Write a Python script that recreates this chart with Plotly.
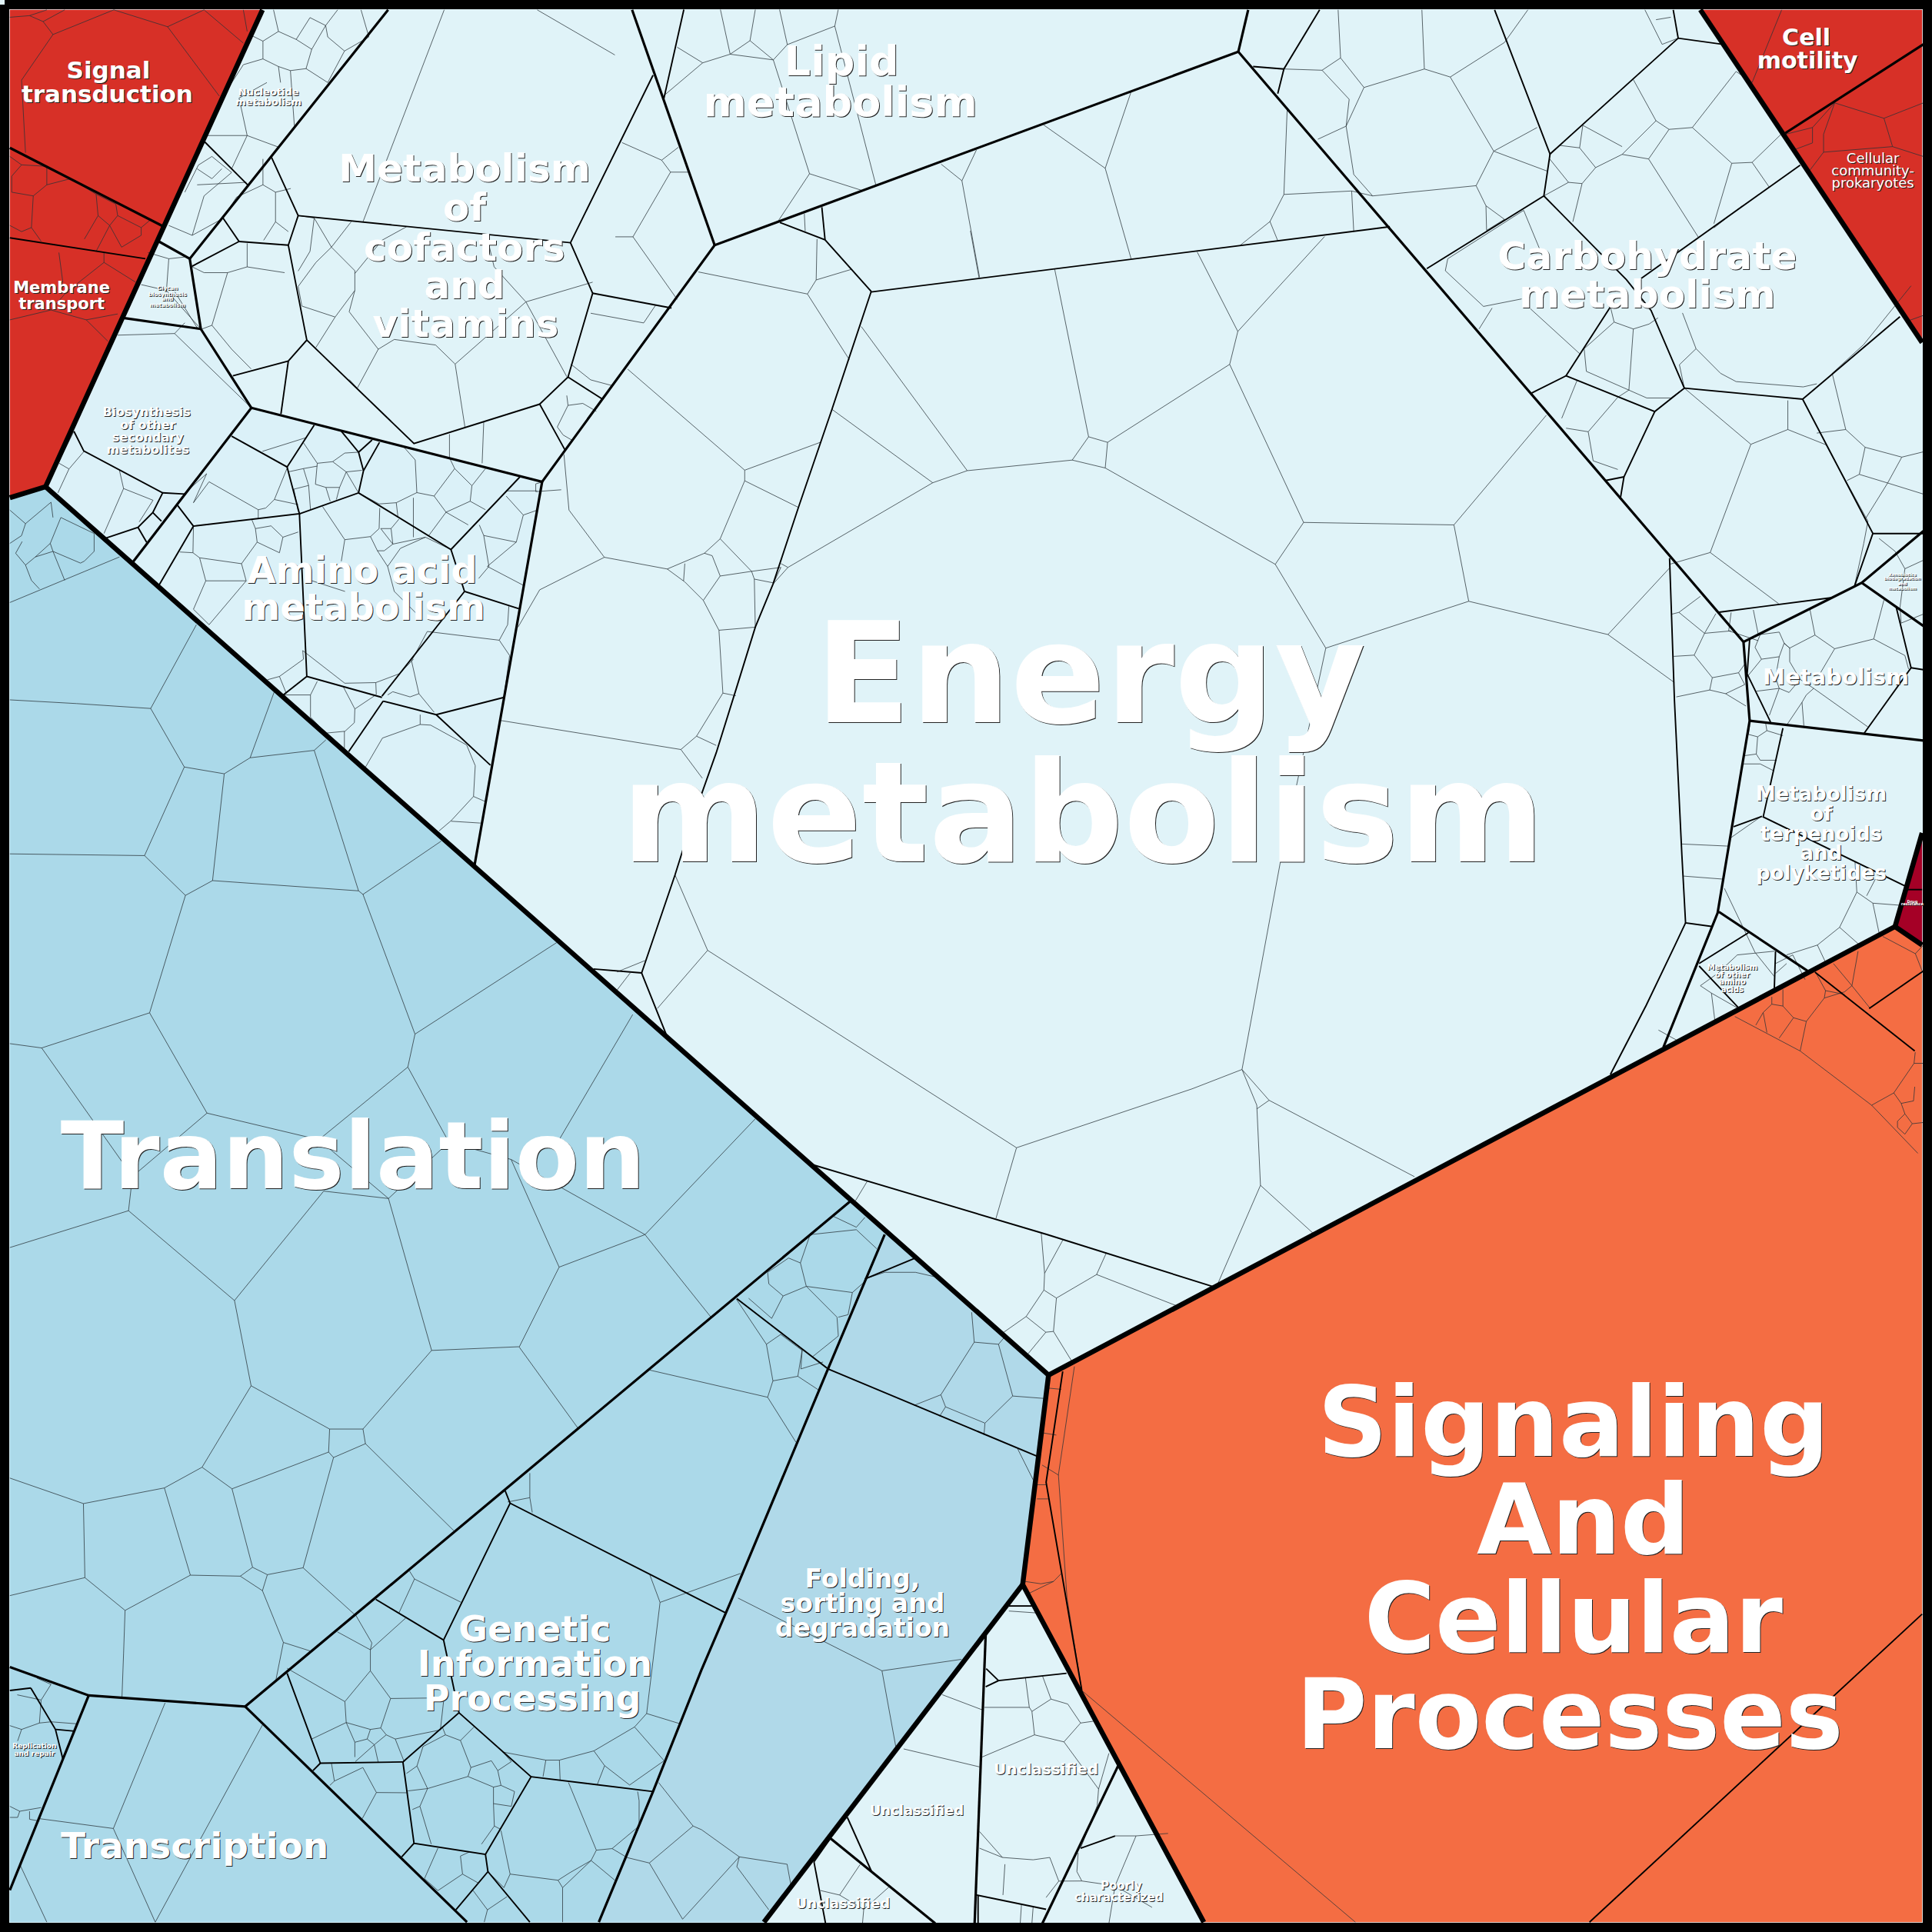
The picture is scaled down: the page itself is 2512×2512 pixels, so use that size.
import plotly.graph_objects as go

# ---- regions: outer outlines of the top-level groups (chart units, 0..1568) ----
REGION_NAMES = ["Metabolism", "Amino", "Biosynthesis", "Info", "Folding", "Unclassified",
                "Environmental", "Cellular", "Drug", "Signaling"]
REGION_COLORS = ["#e0f3f8", "#dbf1f8", "#dcf1f8", "#abd9e9", "#b0d9e9", "#e0f3f8",
                 "#d73027", "#d73027", "#a50026", "#f46d43"]
REGION_SHAPES = [
    [(213, 8), (1380, 8), (1560, 278), (1560, 676), (1538, 752), (851, 1116), (37, 395)],
    [(204, 331), (440, 391), (385, 703), (108, 456)],
    [(100, 258), (163, 267), (204, 331), (108, 456), (37, 395)],
    [(8, 404), (37, 395), (851, 1116), (830, 1286), (620, 1560), (8, 1560)],
    [(718, 1002), (851, 1116), (830, 1286), (620, 1560), (486, 1560), (530, 1454), (569, 1356), (672, 1111)],
    [(830, 1286), (977, 1560), (620, 1560)],
    [(8, 8), (213, 8), (37, 395), (8, 404)],
    [(1380, 8), (1560, 8), (1560, 278)],
    [(1560, 676), (1538, 752), (1560, 767)],
    [(851, 1116), (1538, 752), (1560, 767), (1560, 1560), (977, 1560), (830, 1286)],
]

HEAVY = [
    [(213, 8), (37, 395), (8, 404)],
    [(37, 395), (851, 1116), (1538, 752), (1560, 767)],
    [(1538, 752), (1560, 676)],
    [(1380, 8), (1560, 278)],
    [(851, 1116), (830, 1286), (977, 1560)],
    [(830, 1286), (620, 1560)],
]

BOLD = [
    [(108, 456), (204, 331), (440, 391), (385, 703)],
    [(315, 8), (154, 210), (129, 196)],
    [(154, 210), (163, 267), (204, 331)],
    [(100, 258), (163, 267)],
    [(440, 391), (580, 199), (1005, 42)],
    [(513, 8), (580, 199)],
    [(1005, 42), (1013, 8)],
    [(1005, 42), (1415, 521), (1420, 585), (1394, 741), (1350, 850)],
    [(1415, 521), (1511, 473), (1561, 431)],
    [(1511, 473), (1561, 508)],
    [(1420, 585), (1561, 601)],
    [(1395, 740), (1467, 788)],
    [(690, 975), (199, 1385), (72, 1376), (8, 1353)],
    [(72, 1376), (8, 1534)],
    [(199, 1385), (379, 1560)],
    [(718, 1002), (672, 1111), (593, 1300), (569, 1356), (530, 1454), (486, 1560)],
    [(800, 1326), (791, 1561)],
    [(674, 1492), (759, 1561)],
    [(908, 1432), (846, 1561)],
    [(8, 120), (133, 184)],
    [(1449, 108), (1561, 36)],
]

MID = [
    [(242, 175), (463, 197), (530, 61)],
    [(220, 127), (242, 175), (234, 199), (249, 276), (234, 293), (189, 305)],
    [(194, 196), (234, 199)],
    [(181, 177), (194, 196), (156, 216)],
    [(234, 293), (228, 336)],
    [(249, 276), (336, 360), (438, 328)],
    [(463, 197), (481, 238), (461, 306), (438, 328), (459, 366)],
    [(481, 238), (545, 250)],
    [(461, 306), (489, 324)],
    [(166, 115), (201, 150)],
    [(188, 354), (233, 379), (255, 345)],
    [(233, 379), (243, 417), (157, 427)],
    [(243, 417), (291, 400), (295, 382), (308, 359)],
    [(277, 350), (291, 367), (295, 382)],
    [(291, 367), (302, 357)],
    [(291, 400), (366, 446), (422, 387)],
    [(366, 446), (377, 480), (421, 494)],
    [(377, 480), (310, 565)],
    [(243, 417), (249, 549), (310, 566)],
    [(249, 549), (230, 564)],
    [(311, 569), (283, 610)],
    [(311, 569), (354, 580), (409, 566)],
    [(354, 580), (398, 621)],
    [(144, 410), (157, 427), (129, 475)],
    [(60, 350), (68, 366), (132, 400), (150, 401)],
    [(132, 400), (124, 416), (112, 428), (85, 437)],
    [(124, 416), (131, 423)],
    [(112, 428), (119, 440)],
    [(1213, 8), (1258, 125), (1362, 31), (1398, 36)],
    [(1362, 31), (1358, 8)],
    [(1258, 125), (1253, 159), (1158, 218)],
    [(1253, 159), (1320, 227), (1340, 252), (1367, 315)],
    [(1461, 134), (1332, 226)],
    [(1307, 249), (1271, 305), (1243, 319)],
    [(1271, 305), (1343, 334), (1367, 315)],
    [(1343, 334), (1318, 387), (1315, 405)],
    [(1303, 390), (1318, 387)],
    [(1367, 315), (1463, 324), (1542, 257)],
    [(1463, 324), (1520, 433), (1505, 476)],
    [(1520, 433), (1561, 433)],
    [(1394, 497), (1487, 485)],
    [(1355, 453), (1359, 569), (1365, 694), (1368, 749), (1390, 752)],
    [(1368, 749), (1359, 768), (1336, 816), (1307, 872)],
    [(1071, 8), (1042, 56), (1037, 76)],
    [(1017, 54), (1042, 56)],
    [(707, 237), (1128, 184)],
    [(633, 180.6), (669.6, 194.6), (707.2, 236.7)],
    [(667, 168.2), (669.6, 194.6)],
    [(555, 7.8), (538.8, 80)],
    [(707, 236.7), (675.2, 332.2), (648, 411.8), (627.4, 474), (613, 509), (597.2, 560), (581.3, 610.9),
     (570, 642.7), (555.8, 684.7), (547.8, 710.2), (520.7, 789.8)],
    [(481.7, 786.4), (520.7, 789.6), (540.6, 839.3)],
    [(659.3, 945.2), (850, 1002), (987, 1045)],
    [(233, 1358), (260, 1431), (327, 1430)],
    [(260, 1431), (254, 1437)],
    [(327, 1430), (372.5, 1390), (360, 1331), (414, 1220), (589, 1309)],
    [(305, 1298), (360, 1331)],
    [(414, 1220), (410, 1210)],
    [(372.5, 1390), (431, 1442), (394, 1505)],
    [(431, 1442), (530, 1454)],
    [(327, 1430), (336, 1496), (394, 1505), (396, 1519), (370, 1550)],
    [(336, 1496), (326, 1507)],
    [(396, 1519), (430, 1560)],
    [(672, 1111), (842, 1182)],
    [(598, 1054), (672, 1111)],
    [(743, 1021), (702, 1038)],
    [(862.5, 1113), (849, 1203), (878, 1372)],
    [(1473, 789), (1554, 853)],
    [(1517, 818.5), (1561, 788)],
    [(1290, 1560), (1560, 1310)],
    [(818.8, 1303.4), (837.5, 1303.4)],
    [(800.4, 1354.3), (810.4, 1364), (800, 1369)],
    [(810.4, 1364), (865.6, 1358)],
    [(687.7, 1475), (707.4, 1519)],
    [(660.6, 1511), (670, 1561)],
    [(660.6, 1511), (674, 1492)],
    [(792.7, 1538), (849, 1549.6)],
    [(793.8, 1538), (793.8, 1561)],
    [(877, 1500), (905, 1490)],
    [(1419, 757), (1379, 782)],
    [(1379, 784), (1411, 818)],
    [(1441, 772), (1440, 803)],
    [(1447, 591), (1431, 663), (1546, 719)],
    [(1430, 662.5), (1407, 671)],
    [(1420, 519), (1418, 547), (1437, 586)],
    [(1539, 493), (1551, 542), (1513, 595)],
    [(1551, 542), (1561, 543.5)],
    [(25, 1370), (45, 1403.6), (51, 1427.5)],
    [(8, 1372), (25, 1370)],
    [(45.5, 1403.6), (60.5, 1405)],
    [(8, 193), (118, 210)],
    [(1545, 722), (1560, 722)],
]

THIN = [
    # Energy metabolism, large cells
    [(856, 218.6), (883.5, 354.5), (870.2, 373.4), (785, 382), (699, 265)],
    [(883.5, 354.5), (898.9, 359), (897, 379.8), (870.2, 373.4)],
    [(898.9, 359), (998, 295.7), (1004.6, 269), (971.6, 204.4)],
    [(1004.6, 269), (1075, 192)],
    [(998, 295.7), (1058, 424), (1035, 458), (897, 379.8)],
    [(1255, 337), (1180, 426), (1058, 424)],
    [(1180, 426), (1192, 488), (1305, 515), (1355, 461)],
    [(1192, 488), (1076, 526), (1035, 458)],
    [(1305, 515), (1359, 554)],
    [(1076, 526), (1040, 695), (1008, 868), (967.5, 883.7), (825, 931.5), (574.3, 771.3), (547.8, 710)],
    [(574.3, 771.3), (533.5, 818.5)],
    [(1008, 868), (1020, 897), (1023, 962), (1068, 1003)],
    [(1030, 893), (1148, 955)],
    [(1008, 868), (1030, 893), (1020, 900)],
    [(825, 931.5), (808.3, 988.9)],
    [(1023, 962), (987, 1045)],
    [(703.9, 958.6), (694.3, 974.5)],
    [(500.8, 788.8), (523.5, 779.6)],
    [(500.8, 803.5), (511.5, 789.6)],
    # Energy, left of central cell
    [(566.8, 220.7), (655.3, 238.6), (662.4, 227.2), (663.1, 194)],
    [(662.4, 227.2), (691, 218.6)],
    [(655.3, 238.6), (689.3, 291.9)],
    [(652.8, 173.4), (653.5, 187.6)],
    [(509.4, 299.6), (604.4, 381.6), (666, 358.9)],
    [(604.4, 381.6), (604.4, 390.2), (648, 411.8)],
    [(604.4, 390.2), (584.5, 437.3), (571.7, 449), (541.5, 461.8), (490.5, 452.3), (461.8, 414), (457.7, 368.8)],
    [(490.5, 452.3), (438, 478.7), (420.4, 509)],
    [(584.5, 437.3), (610, 463.7), (633.8, 460.5), (627.4, 474)],
    [(610, 463.7), (612.2, 470), (627.4, 473)],
    [(571.7, 449), (578, 451), (584.5, 467.5), (610, 463.7)],
    [(584.5, 467.5), (570.8, 487.3), (555.8, 472.3), (541.5, 461.8)],
    [(555.8, 457.4), (554.8, 471.4)],
    [(612.2, 470), (613, 509)],
    [(570.8, 487.3), (583.5, 511.5), (613, 509)],
    [(583.5, 511.5), (586.7, 562.5), (597.2, 564.7)],
    [(586.7, 562.5), (565.3, 597.5), (581.3, 605)],
    [(565.3, 597.5), (552.6, 608.3), (406.7, 584.8)],
    [(552.6, 608.3), (570, 631.6)],
    [(633.8, 457.4), (639.5, 460.5), (627.4, 474)],
    [(639.5, 460.5), (757, 391.8), (785, 382)],
    [(675.2, 332.2), (757, 391.8)],
    [(787.6, 187.3), (794.6, 225.5)],
    [(845, 1000), (847.8, 1033.4), (847.2, 1047), (832.8, 1068.5), (814.7, 1081.2)],
    [(847.8, 1033.4), (863, 1005.7)],
    [(847.2, 1047), (857.4, 1053.5), (855, 1080.6), (848.8, 1081.2), (832.8, 1068.5)],
    [(857.4, 1053.5), (890, 1034.4), (898, 1016.6)],
    [(890, 1034.4), (955.5, 1060)],
    [(855, 1080.6), (870, 1105)],
    [(848.8, 1081.2), (834.4, 1098.7)],
    # Lipid
    [(584.7, 7.8), (592.6, 44), (570.3, 51), (538.8, 77.6)],
    [(549.6, 38.3), (570.3, 51)],
    [(613, 7.8), (608.7, 33), (592.6, 44), (627.6, 48.6), (608.7, 33)],
    [(627.6, 48.6), (639, 36.2), (632.7, 7.8)],
    [(639, 36.2), (677.5, 21.2), (680.3, 7.8)],
    [(627.6, 48.6), (657, 141), (631.3, 179.8)],
    [(677.5, 21.2), (710.8, 150)],
    [(657, 141), (700, 154.7)],
    [(763.8, 133.2), (780.7, 146.7), (792.5, 121.6)],
    [(780.7, 146.7), (795, 225)],
    [(847, 101.4), (897, 136.6), (918, 74.5)],
    [(897, 136.6), (918, 210)],
    [(1006.4, 199.2), (1030.7, 179.8), (1042, 157.8), (1044.7, 88)],
    [(1042, 157.8), (1097, 155), (1098.7, 188)],
    [(1030.7, 179.8), (1037, 195.3)],
    [(504.8, 115.7), (537, 130), (544.2, 139.7), (513.7, 192.2), (499.4, 192.2)],
    [(537, 130), (550.6, 119.5)],
    [(544.2, 139.7), (558.5, 139.7)],
    [(513.7, 192.2), (549.6, 243)],
    [(479.4, 254.2), (522.4, 262.1), (532, 247.8)],
    [(463.4, 295.6), (479.4, 308.3), (497, 313)],
    [(460, 321), (461, 329), (473, 327.4), (484, 333.8)],
    [(461, 329), (452.3, 346.5), (457, 353), (465, 357.7)],
    [(441, 391), (434.8, 392.7), (434.8, 399), (455.5, 397.5)],
    [(1097, 155), (1114, 159), (1198, 150.7), (1212.3, 122.7), (1177, 62.5), (1156, 56), (1107, 71), (1092.5, 102.4), (1098.7, 141.6), (1114, 159)],
    [(1156, 56), (1154, 8)],
    [(1177, 62.5), (1221, 34.5), (1240, 8)],
    [(1198, 150.7), (1206, 167), (1221, 178), (1206.5, 187)],
    [(1206, 167), (1206.5, 187)],
    [(1212.3, 122.7), (1256, 139)],
    [(1212.3, 122.7), (1247.5, 103.5)],
    [(1092.5, 102.4), (1069.6, 113)],
    [(1073, 57), (1042.4, 56)],
    [(1073, 57), (1088, 47), (1086, 8)],
    [(1088, 47), (1107, 71)],
    [(1073, 57), (1095, 80.6), (1092.5, 102.4)],
    # Carbohydrate
    [(1335, 8), (1349, 36), (1362, 31)],
    [(1344, 16), (1356, 14)],
    [(1422, 67), (1409, 58), (1373.5, 103.5), (1354.6, 105), (1344, 98), (1325.6, 64.6)],
    [(1373.5, 103.5), (1405.5, 132.5), (1422, 131.8), (1445.5, 109)],
    [(1422, 131.8), (1436, 152)],
    [(1405.5, 132.5), (1391, 181.5)],
    [(1354.6, 105), (1338, 129), (1316.5, 125.3), (1344, 98)],
    [(1338, 129), (1378.3, 192.4)],
    [(1316.5, 125.3), (1295, 136), (1282, 120), (1284.6, 101.7), (1316.5, 119)],
    [(1282, 120), (1265.7, 118)],
    [(1295, 136), (1284, 149), (1273, 148), (1257.7, 129)],
    [(1273, 148), (1253, 159)],
    [(1284, 149), (1276.5, 180)],
    [(1236.6, 170.7), (1175, 210), (1173, 219.7), (1204, 248.7), (1235, 242.6)],
    [(1236.6, 170.7), (1252, 208)],
    [(1242, 250.5), (1282, 287)],
    [(1211, 250), (1200.4, 267)],
    [(1307, 249), (1310, 261.4), (1325.6, 267), (1338.4, 263), (1345.6, 258)],
    [(1310, 261.4), (1285.7, 283), (1287.5, 301.4), (1322, 316.6), (1325.6, 267)],
    [(1322, 316.6), (1336.5, 323), (1356, 323), (1367, 315)],
    [(1322, 316.6), (1313, 322.4), (1289, 350.4), (1271, 347.5)],
    [(1289, 350.4), (1293, 374), (1313, 381)],
    [(1280, 308.6), (1267.5, 339.5)],
    [(1367, 315), (1421, 360.6), (1451, 348.6), (1482, 361)],
    [(1421, 360.6), (1388, 448.4), (1355, 458)],
    [(1388, 448.4), (1443.6, 490)],
    [(1451, 348.6), (1451, 325)],
    [(1482, 361), (1516, 423), (1512.6, 441), (1505, 476)],
    [(1551, 232), (1512.6, 279.6), (1487, 303), (1498, 348.6), (1474.5, 351.5)],
    [(1498, 348.6), (1513.7, 363), (1543.5, 371), (1561, 366.7)],
    [(1513.7, 363), (1509, 385), (1532, 392), (1543.5, 371)],
    [(1509, 385), (1499, 390)],
    [(1532, 392), (1514, 421)],
    [(1532, 392), (1561, 401)],
    [(1365.5, 254), (1376.5, 283), (1396.4, 303), (1409, 309.7), (1463.5, 314), (1474.5, 311.5)],
    [(1376.5, 283), (1363, 296), (1367, 315)],
    [(1414, 167), (1391, 185)],
    # Right strip
    [(1357, 498.4), (1362.6, 497), (1380, 484)],
    [(1362.6, 497), (1383.4, 514), (1392.6, 498)],
    [(1383.4, 514), (1405, 512)],
    [(1383.4, 514), (1375, 531.7), (1358.4, 532.7)],
    [(1375, 531.7), (1389.7, 550), (1411, 546), (1416, 539)],
    [(1389.7, 550), (1387.6, 560), (1360.5, 565.6)],
    [(1387.6, 560), (1400.5, 563), (1417, 573)],
    [(1400.5, 563), (1416, 555.6), (1411, 546)],
    [(1420, 589), (1419, 596), (1426.5, 598), (1425.4, 612), (1415, 613.4)],
    [(1426.5, 598), (1434, 593), (1447, 597)],
    [(1434, 593), (1433, 587)],
    [(1425.4, 612), (1428.6, 617), (1442, 617)],
    [(1428.6, 620), (1415, 620)],
    [(1428.6, 620), (1439, 625.3)],
    [(1365, 685), (1402.5, 686.7)],
    [(1366, 711), (1398.4, 713.5)],
    # Metabolism (right)
    [(1469, 495), (1473, 515.4), (1489, 526.5), (1477.5, 546)],
    [(1473, 515.4), (1452.5, 526), (1448, 522)],
    [(1489, 526.5), (1520.7, 518.6), (1529, 487)],
    [(1520.7, 518.6), (1546, 532), (1549, 543)],
    [(1444, 513), (1448, 522), (1452.5, 526), (1452.5, 537), (1461, 551.4), (1472, 558.7), (1516, 590)],
    [(1472, 558.7), (1466, 564), (1462.5, 570), (1464, 589)],
    [(1462.5, 570), (1450.4, 588)],
    [(1444, 513), (1428.6, 515), (1424.4, 525.4), (1429.6, 535), (1444, 533), (1448, 522)],
    [(1419, 548), (1429.6, 535)],
    [(1425.4, 561), (1444, 558.7), (1436, 580.6)],
    [(1444, 558.7), (1452, 562), (1461, 551.4)],
    [(1444, 533), (1441, 550), (1444, 558.7)],
    [(1405, 497), (1403, 512), (1427, 520)],
    [(1423, 495), (1427, 515)],
    # Terpenoids
    [(1404.6, 680), (1429.6, 662.5)],
    [(1399.5, 721), (1424.4, 773), (1440, 792.5)],
    [(1505.5, 699), (1507, 724), (1493, 752.6), (1475, 767), (1450, 775)],
    [(1515, 727), (1522, 713.5)],
    [(1507, 724), (1520, 733), (1525, 757)],
    [(1520, 733), (1546, 735)],
    [(1493, 752.6), (1508.7, 766.5)],
    [(1475, 767), (1481.6, 781)],
    [(1441, 782), (1455, 775), (1465, 795)],
    [(1441, 790), (1450, 782)],
    [(1394, 790), (1410, 775), (1440, 772)],
    [(1394, 790), (1380, 800), (1389, 806), (1410, 818)],
    [(1389, 806), (1392, 830), (1420, 816)],
    [(1346, 836), (1364, 846)],
    [(1525, 437), (1538, 447.4), (1546, 461.6), (1561, 454.7)],
    [(1546, 461.6), (1542, 493), (1543, 505.7), (1561, 498.4)],
    # Cofactors
    [(360.5, 8), (294.6, 180)],
    [(436, 8), (499, 44.6)],
    [(243, 175), (255, 177), (269, 200.6), (285, 180)],
    [(255, 177), (251.6, 204), (242, 220)],
    [(269, 200.6), (288, 219.7), (288, 235.7), (272, 257.3), (245, 248.4), (242, 232.5), (256.4, 213), (269, 200.6)],
    [(272, 257.3), (256.4, 282)],
    [(283.4, 253), (288, 235.7)],
    [(283.4, 253), (307, 283.4), (320, 275.5), (353.5, 280), (369.4, 295.5), (377.4, 347)],
    [(307, 283.4), (290, 315), (283.4, 308)],
    [(369.4, 295.5), (426.8, 245), (460, 305.7)],
    [(426.8, 245), (481, 229)],
    [(288, 222), (310, 195), (330, 184)],
    [(426.8, 245), (401, 216.5), (395, 191)],
    [(223.6, 156), (223.6, 180), (234, 188)],
    [(223.6, 180), (214, 195)],
    [(213.4, 129), (213.4, 150), (223.6, 156), (236, 153)],
    [(156, 216.6), (165.6, 221.3), (184.7, 221.3), (200.6, 216.6), (231, 221.3)],
    [(200.6, 216.6), (200.6, 197.5)],
    [(184.7, 221.3), (172, 264), (188, 283.4), (203.8, 299.4)],
    [(172, 264), (164, 267)],
    [(213.4, 150), (192, 160), (181, 177)],
    # Nucleotide
    [(204, 28.7), (213.4, 33.4), (226, 25.5), (222, 8)],
    [(226, 25.5), (240.4, 32), (253, 40), (264.3, 20.7), (251.6, 14.3), (240.4, 32)],
    [(264.3, 20.7), (274, 8)],
    [(264.3, 20.7), (266, 30), (279.6, 41.4), (299.4, 30), (293, 8)],
    [(279.6, 41.4), (266, 67)],
    [(253, 40), (248.4, 55.7), (266, 67)],
    [(248.4, 55.7), (235.7, 57.3), (226, 54), (213.4, 47.8), (213.4, 33.4)],
    [(226, 54), (227.7, 67)],
    [(213.4, 47.8), (197.5, 52.5), (183, 75)],
    [(216.6, 67), (194, 79.6), (200.6, 110), (226, 119.4)],
    [(200.6, 110), (167, 110)],
    [(200.6, 110), (188, 137)],
    [(235.7, 57.3), (238.9, 102)],
    [(172, 127), (161, 134), (150, 156)],
    [(172, 127), (188, 140), (165.6, 159), (156, 191)],
    [(156, 191), (137, 183)],
    [(156, 191), (181.5, 177)],
    [(160, 150), (200, 148)],
    [(160, 137), (172, 145), (180, 137)],
    # Glycan
    [(114.6, 231), (135, 235.7), (163, 267)],
    [(137, 210), (135, 237)],
    [(137, 210), (149.7, 208.6)],
    [(120, 205), (137, 210)],
    [(142, 237), (160, 266)],
    # Red cells
    [(8, 14), (24, 12.7), (38, 8)],
    [(24, 12.7), (35, 17.5), (43, 28), (17.5, 65), (20.7, 124)],
    [(43, 28), (92.4, 8), (136, 21.7), (178, 78)],
    [(136, 21.7), (165.6, 8)],
    [(165.6, 8), (197.5, 35)],
    [(197.5, 8), (200.6, 25.5)],
    [(35, 17.5), (52.5, 8)],
    [(8, 127), (17.5, 133.8), (9.5, 143), (9.5, 156), (27, 159), (25.5, 184.7), (17.5, 188), (8, 183)],
    [(17.5, 133.8), (38, 135), (38, 150), (27, 159)],
    [(38, 150), (57.3, 145), (78, 157.6), (79.6, 175), (68.5, 194)],
    [(78, 157.6), (94, 165.6), (95.5, 175), (89, 183), (79.6, 175)],
    [(95.5, 175), (114.6, 184.7), (122.6, 178)],
    [(89, 183), (98.7, 200.6), (114.6, 191), (114.6, 184.7)],
    [(89, 183), (78, 204)],
    [(25.5, 184.7), (33.4, 195.8)],
    [(47.8, 205), (51, 229)],
    [(84.4, 205), (84.4, 213), (54, 237), (41.4, 251.6)],
    [(84.4, 213), (110, 229)],
    [(8, 259.6), (41.4, 251.6), (70, 259.6), (95.5, 254.8)],
    [(70, 259.6), (87.6, 277)],
    [(1449, 109), (1471, 103.5), (1489, 83.5), (1529, 96), (1561, 83.5)],
    [(1489, 83.5), (1480, 109), (1480, 123.5), (1536, 119), (1561, 127)],
    [(1529, 96), (1536, 119)],
    [(1471, 103.5), (1471, 116), (1456, 121.6)],
    [(1480, 123.5), (1469, 138)],
    [(1547, 261), (1561, 256)],
    [(1446, 8), (1422, 67)],
    # Amino acid
    [(246.3, 359.4), (257.5, 376), (270, 374.7), (281, 383), (275.6, 395.6), (264.5, 395.6), (256, 393), (257.5, 376)],
    [(270, 374.7), (279.8, 367.7), (291, 367)],
    [(281, 383), (293.7, 381.7)],
    [(233.8, 383), (246.3, 380.3), (257.5, 378.3)],
    [(246.3, 380.3), (250.5, 394), (238.5, 397), (242, 415)],
    [(250.5, 394), (252, 413.7)],
    [(264.5, 395.6), (268, 406.8)],
    [(275.6, 395.6), (273, 405.4)],
    [(281, 383), (291, 400)],
    [(233, 380), (222.7, 405.4), (242, 409.5)],
    [(222.7, 405.4), (215.7, 412.3), (209.6, 413.7), (169.7, 391), (157, 408), (167.7, 384.5)],
    [(209.6, 413.7), (209.6, 420.7)],
    [(167.7, 384.5), (149, 401)],
    [(213, 366.3), (249, 355)],
    [(157, 427.7), (156.6, 448.6), (162, 452.7), (167, 471.4), (199.8, 471.4)],
    [(162, 452.7), (196, 457.5), (208.7, 440), (207.3, 429), (204.5, 422)],
    [(208.7, 440), (226.8, 448.6), (229.6, 436), (242, 431.8)],
    [(207.3, 429), (220, 426.8), (229.6, 436)],
    [(156.6, 448.6), (146, 448)],
    [(167, 471.4), (157, 494.5), (169.7, 507)],
    [(196, 457.5), (199.8, 471.4), (169.7, 507)],
    [(261.7, 411), (279.8, 438), (300.7, 435.5), (307.7, 429), (308.2, 412.3)],
    [(279.8, 438), (277, 455.5)],
    [(300.7, 435.5), (306.3, 447), (314.6, 459.7)],
    [(306.3, 447), (311.8, 447), (318.8, 441.6), (309, 429), (317.4, 429), (323.8, 421.3)],
    [(317.4, 429), (318.8, 441.6), (345.3, 436), (366, 446)],
    [(345.3, 436), (325, 445), (314.6, 459.7), (320, 480), (340, 500)],
    [(245.7, 528), (279.8, 554.5), (305, 554), (324.4, 546.7), (335.5, 535)],
    [(305, 554), (305.4, 563.7)],
    [(245.7, 528), (246.3, 535), (226.8, 549), (217, 551.7)],
    [(226.8, 549), (232.4, 562.8)],
    [(249, 470), (280, 480)],
    [(321.6, 408), (338.3, 399.8), (337, 373.3), (327, 362)],
    [(291, 400), (307.7, 409), (321.6, 408), (323, 420)],
    [(338.3, 399.8), (352.3, 402.6), (369, 380.3), (365, 372)],
    [(369, 380.3), (383, 394.2), (394, 380.3)],
    [(352.3, 402.6), (362, 415.7), (348, 434.6)],
    [(362, 415.7), (381.6, 406.8), (383, 394.2)],
    [(381.6, 406.8), (394, 413.7)],
    [(362, 415.7), (380, 426)],
    [(335.5, 404), (335.5, 436)],
    [(392.6, 342.7), (391.3, 376)],
    [(364.8, 352.4), (364.8, 372)],
    [(410.8, 402.6), (424.7, 418), (437, 413.7)],
    [(424.7, 418), (419, 440), (392.6, 434.6), (389, 426)],
    [(419, 440), (395.5, 459.7), (424.7, 475)],
    [(392.6, 434.6), (396.8, 459.7), (388.5, 469.5)],
    [(410.8, 398.4), (436, 398.4)],
    [(346.7, 512.5), (405.2, 519.6), (413.6, 532), (409, 565.6)],
    [(405.2, 519.6), (412, 507), (413, 492)],
    [(346.7, 512.6), (334, 536.4), (340, 563), (352.3, 578)],
    [(340, 563), (332.8, 565.6), (318.8, 561.4), (314.6, 564)],
    [(341, 580), (341, 588), (310.4, 599), (296.5, 622.8)],
    [(341, 588), (349.5, 588.5), (378.7, 604.6), (385.7, 621.4), (384.3, 646.4), (366.2, 666), (356.4, 674.3)],
    [(384.3, 646.4), (394, 650.6)],
    [(366, 666.5), (390, 668)],
    [(257.5, 553), (252, 564), (252, 582), (264.5, 595), (280, 593.5), (287.6, 586.5), (288, 575.4), (278.4, 557)],
    [(288, 575.4), (305, 564)],
    [(252, 564), (230, 564)],
    [(279.5, 593.5), (279.5, 607.4)],
    # Biosynthesis
    [(95.5, 272), (141.7, 270.7), (204, 331)],
    [(141.7, 270.7), (150, 262)],
    [(97, 382), (100.3, 396.5), (84.4, 433)],
    [(100.3, 396.5), (124.2, 406), (113, 423.6)],
    [(60, 350), (48, 374), (38, 392)],
    [(48, 376), (56, 380.6), (68.5, 366)],
    [(47, 400), (56, 380.6)],
    # Folding, sorting
    [(599, 1297), (715.8, 1356), (780.3, 1346.7)],
    [(715.8, 1356), (727, 1417.5)],
    [(600, 1507), (638.8, 1513), (642, 1530.5)],
    [(554, 1557.6), (600, 1507)],
    [(569.4, 1485), (600, 1507), (598, 1515), (624, 1550)],
    [(597.6, 1054.4), (622, 1091), (627.3, 1120.7), (623, 1134), (527.5, 1112)],
    [(623, 1134), (646, 1170.5)],
    [(622, 1091), (633.6, 1083), (651, 1096), (647.5, 1117), (627.3, 1120.7)],
    [(647.5, 1117), (664.8, 1128.4)],
    [(651, 1096), (650, 1111), (668, 1105.4)],
    [(607.6, 1053.7), (626.3, 1070), (635.6, 1051.8), (654.4, 1044), (679.3, 1069), (680.4, 1084.3), (659.6, 1101)],
    [(654.4, 1044), (649.6, 1025), (657.5, 1002), (695, 998), (711.6, 1013.5)],
    [(649.6, 1025), (640, 1021), (623, 1032.6), (624, 1042), (635.6, 1051.8)],
    [(654.4, 1044), (691.8, 1049), (702, 1040)],
    [(691.8, 1049), (688.3, 1067), (680.4, 1069)],
    [(676, 987), (695, 996), (702, 988)],
    [(702, 1038), (718, 1032.6), (743, 1032.6), (759.5, 1036.4)],
    [(788.6, 1065), (790.7, 1089.3), (810.4, 1091), (814.6, 1086)],
    [(790.7, 1089.3), (763.6, 1132), (741.8, 1140.6)],
    [(763.6, 1132), (767.4, 1141.8), (762.6, 1149.4)],
    [(767.4, 1141.8), (799.4, 1155), (798.6, 1164.7)],
    [(799.4, 1155), (821.9, 1133), (810.4, 1091)],
    [(821.9, 1133), (847.9, 1135)],
    [(826, 1176), (838.5, 1201)],
    # Genetic
    [(430, 1195.6), (430, 1215.5), (432, 1227.5)],
    [(412, 1219), (430, 1215.5)],
    [(273.8, 1324.4), (300.6, 1339), (329.8, 1312.7)],
    [(288.4, 1310.3), (301.8, 1333.4), (300.6, 1339), (300.6, 1356), (279.9, 1381), (233, 1354)],
    [(300.6, 1356), (317, 1378.5), (358, 1378)],
    [(317, 1378.5), (309, 1402.4), (300.6, 1403.6), (298, 1411.4), (303.8, 1416), (313.5, 1408), (309, 1402.4)],
    [(279.9, 1381), (281, 1398), (253, 1411.4)],
    [(281, 1398), (300.6, 1403.6)],
    [(281, 1398), (288, 1414), (298, 1411.4)],
    [(288, 1414), (288, 1426)],
    [(303.8, 1416), (288.4, 1429.7)],
    [(303.8, 1416), (307, 1430.4)],
    [(313.5, 1408), (320.8, 1411.4), (328, 1429.7)],
    [(320.8, 1411.4), (357.4, 1404), (360, 1381)],
    [(323.8, 1309), (336.4, 1281.5), (374.4, 1300.5)],
    [(336.4, 1281.5), (332.3, 1275)],
    [(527.5, 1278.4), (535.7, 1300.5), (524.8, 1390.7), (515, 1401.6), (482, 1421), (454, 1428.5), (443, 1428.5), (407.8, 1421.9)],
    [(535.7, 1300.5), (601, 1277)],
    [(524.8, 1390.7), (552, 1399)],
    [(515, 1401.6), (539, 1429), (511, 1448.7)],
    [(482, 1421), (490.7, 1433), (484.6, 1448.7)],
    [(490.7, 1433), (511, 1448.7)],
    [(454, 1428.5), (454.6, 1444.8)],
    [(443, 1428.5), (440.7, 1442)],
    [(361.5, 1408), (373.7, 1412.6), (382.2, 1434.5), (379.8, 1441.8), (347, 1451.6), (338.4, 1433.3), (343.3, 1417.5), (361.5, 1408)],
    [(373.7, 1412.6), (384.7, 1401.6)],
    [(361.5, 1408), (359, 1401.6)],
    [(382.2, 1434.5), (398.8, 1429), (404, 1437), (406.6, 1449), (400.5, 1450.4), (379.8, 1441.8)],
    [(404, 1437), (415, 1429.7), (408.5, 1422.4)],
    [(406.6, 1449), (417.6, 1454), (415, 1466)],
    [(400.5, 1450.4), (400.5, 1463.8), (401.2, 1482), (406, 1484.5)],
    [(400.5, 1463.8), (415, 1466)],
    [(347, 1451.6), (340.8, 1466), (350, 1496.7)],
    [(340.8, 1466), (334.7, 1468.6)],
    [(338.4, 1433.3), (329.8, 1439.4)],
    [(347, 1451.6), (331, 1453.5)],
    [(401.2, 1482), (390.8, 1496.7)],
    [(461.4, 1446.7), (484, 1501.6), (496.8, 1500.3), (518.7, 1482), (518.7, 1461.4), (517.5, 1454)],
    [(484, 1501.6), (479.7, 1510), (462.6, 1519.8), (452.9, 1526), (414, 1521), (406.6, 1485.7)],
    [(496.8, 1500.3), (509, 1507.6), (527, 1512), (562.5, 1482)],
    [(527, 1512), (554, 1557.6)],
    [(534.5, 1446.7), (562.5, 1482), (569.4, 1485)],
    [(479.7, 1510), (487, 1516), (499, 1526)],
    [(452.9, 1526), (456.6, 1532), (456.6, 1560)],
    [(456.6, 1532), (479.7, 1510)],
    [(414, 1521), (409, 1532), (396, 1519)],
    [(355.4, 1500), (344.5, 1524.7), (355.4, 1534.4), (375.4, 1521), (373.7, 1506.4), (381, 1503)],
    [(375.4, 1521), (388.3, 1528.3)],
    [(269, 1431), (271.4, 1445.5), (294.5, 1434.5), (305.5, 1454.8), (331, 1455)],
    [(271.4, 1445.5), (267.7, 1449)],
    [(305.5, 1454.8), (294, 1476)],
    [(384, 1534.4), (395.6, 1550), (411.5, 1539.3)],
    [(395.6, 1550), (393, 1560)],
    # Translation
    [(8, 489), (97, 452)],
    [(8, 414), (20.7, 425), (17.5, 434.7), (8, 441)],
    [(20.7, 425), (41.4, 407.6), (43, 420)],
    [(18, 439.5), (12.7, 449), (20.7, 458.6), (28.7, 452), (40.8, 441), (49.4, 420), (76.4, 433), (76.4, 447.5), (68.5, 455.4), (65.3, 457), (43, 447.5)],
    [(40.8, 441), (43, 447.5), (28.7, 452)],
    [(20.7, 458.6), (25.5, 471), (32, 478)],
    [(43, 447.5), (52.5, 471)],
    [(8, 568), (62, 571), (122.3, 575), (159.4, 507)],
    [(122.3, 575), (149.6, 622.5), (182, 628), (203, 615), (255, 609), (264.5, 600.5)],
    [(203, 615), (222.6, 561.4)],
    [(149.6, 622.5), (117.3, 694.4), (8, 693)],
    [(182, 628), (172.5, 714.7), (150.5, 726.7), (117.3, 694.4)],
    [(172.5, 714.7), (291, 723), (255, 609)],
    [(291, 723), (294.6, 725.9), (358, 682.7)],
    [(150.5, 726.7), (121.4, 822), (33.8, 850.5), (8, 847)],
    [(121.4, 822), (168, 903.4), (258.8, 925), (315.3, 972.7)],
    [(294.6, 725.9), (336.8, 839.3), (331, 866), (258.8, 925)],
    [(336.8, 839.3), (451.8, 765)],
    [(331, 866), (364.3, 927), (414.8, 941), (453.8, 1028.4), (421.5, 1093)],
    [(414.8, 941), (523.5, 1002), (613, 908)],
    [(453.8, 925), (513.5, 823.4)],
    [(523.5, 1002), (453.8, 1028.4)],
    [(523.5, 1002), (577, 1069)],
    [(364.3, 927), (315.3, 972.7), (350.3, 1096), (421.2, 1093), (469, 1159)],
    [(33.8, 850.5), (107.5, 954.8), (104.3, 982.6), (8, 1012.5)],
    [(168, 903.4), (107.5, 954.8)],
    [(104.3, 982.6), (190.3, 1055.5), (262.7, 966.7), (315.3, 972.7)],
    [(190.3, 1055.5), (203.8, 1124.7), (267.5, 1159.8), (294.6, 1159.8), (350.3, 1096)],
    [(203.8, 1124.7), (164, 1190.8), (133.4, 1207.6), (67.7, 1220.3), (8, 1199.6)],
    [(164, 1190.8), (188.3, 1208.3), (266.7, 1178.5), (267.5, 1159.8)],
    [(266.7, 1178.5), (270.7, 1182.9), (296.6, 1171.7), (294.6, 1159.8)],
    [(270.7, 1182.9), (246, 1272.4), (217, 1278), (205, 1272), (188.3, 1208.3)],
    [(296.6, 1171.7), (369.4, 1243.4)],
    [(246, 1272.4), (287.4, 1310)],
    [(205, 1272), (195, 1279.2), (154.5, 1278.4), (133.4, 1207.6)],
    [(195, 1279.2), (213, 1291), (217, 1278)],
    [(213, 1291), (230, 1333), (252, 1340)],
    [(230, 1333), (224, 1363)],
    [(154.5, 1278.4), (101.5, 1307), (68.9, 1280.4), (67.7, 1220.3)],
    [(68.9, 1280.4), (8, 1295)],
    [(101.5, 1307), (100.3, 1342), (99, 1377)],
    # Transcription
    [(134, 1382), (92, 1484), (32, 1476)],
    [(92, 1484), (126, 1560)],
    [(213, 1400), (126, 1560)],
    [(16, 1513), (38, 1560)],
    [(14, 1375.5), (33.4, 1379.7), (41.4, 1367), (30, 1362)],
    [(33.4, 1379.7), (32, 1398.4), (17.5, 1403.6), (8, 1400.5)],
    [(17.5, 1403.6), (14.3, 1413)],
    [(32, 1398.4), (41.4, 1397.4), (62, 1399)],
    [(8, 1466), (16, 1470), (33.4, 1467)],
    [(16, 1470), (14.3, 1475), (8, 1475)],
    [(24, 1470), (24, 1476.5), (32, 1478)],
    # Orange
    [(872, 1109), (859, 1197), (866, 1297), (878, 1372), (1100, 1560)],
    [(1408, 825), (1461, 853), (1519, 897), (1556.5, 936)],
    [(1528, 760), (1554.5, 774), (1560, 788)],
    [(1554.5, 774), (1561, 767)],
    [(1508, 772), (1503, 800), (1518, 818.6)],
    [(1488, 782), (1503, 800), (1497, 805)],
    [(1474, 790), (1481.6, 804), (1480.6, 810), (1466, 829), (1455.6, 826), (1447, 816.5), (1438, 815), (1431, 821.7), (1425, 832)],
    [(1431, 821.7), (1434, 838)],
    [(1455.6, 826), (1444, 842.5)],
    [(1466, 829), (1461, 853)],
    [(1447, 816.5), (1447, 803)],
    [(1438, 815), (1438, 809)],
    [(1481.6, 804), (1497, 807)],
    [(1480.6, 810), (1497, 805)],
    [(1554.4, 854), (1553.4, 863), (1537, 887), (1519, 897)],
    [(1553.4, 863), (1561, 863)],
    [(1537, 887), (1543, 895.5), (1546, 904), (1540, 910), (1540, 915), (1546, 920.5), (1552, 912), (1546, 904)],
    [(1552, 912), (1561, 911)],
    [(1543, 895.5), (1553, 893.5), (1554, 882)],
    [(832, 1283.5), (844.8, 1285.4), (855, 1283.5), (861.4, 1277)],
    [(835.4, 1293), (855, 1283.5)],
    [(841.6, 1205), (849, 1205)],
    [(841.6, 1216.5), (851, 1216.5)],
    [(845.8, 1189), (859.3, 1197.3)],
    [(849, 1126.4), (861.4, 1127.6)],
    [(846.8, 1163), (857.3, 1164.7)],
    # Unclassified
    [(818.8, 1307.5), (840.6, 1309)],
    [(799, 1385.7), (835.4, 1385.7), (832.3, 1362)],
    [(835.4, 1385.7), (837.5, 1389), (853, 1379), (846, 1360)],
    [(837.5, 1389), (839.6, 1408), (797, 1426)],
    [(839.6, 1408), (863.5, 1413.7), (877, 1398.4), (890.5, 1396.5)],
    [(863.5, 1413.7), (891.6, 1452), (900, 1423)],
    [(877, 1398.4), (866.6, 1383), (853, 1379)],
    [(891.6, 1452), (890.5, 1465.4), (877, 1500)],
    [(795, 1486.5), (813.6, 1507.5), (838.5, 1509.4), (852, 1507.5), (859.3, 1526.7), (849, 1540)],
    [(815.6, 1513), (814, 1538)],
    [(795, 1500), (813.6, 1507.5)],
    [(829, 1546), (828, 1561)],
    [(838.5, 1547.7), (837.5, 1561)],
    [(764.7, 1375.4), (798, 1388)],
    [(733.4, 1419.4), (795, 1434)],
    [(665.8, 1534.3), (681.4, 1538), (698, 1513.3)],
    [(722, 1531), (701, 1549.7), (700, 1561)],
    [(701, 1549.7), (681.4, 1538)],
    [(875, 1503.7), (874, 1519), (878, 1526.6), (905, 1530.5), (935, 1548)],
    [(878, 1526.6), (859.3, 1526.7)],
    [(905, 1490), (922, 1490), (905, 1530.5)],
    [(905, 1530.5), (900, 1561)],
    [(922, 1490), (948, 1488)],
]

# ---- labels, one entry per text line ----
LABEL_TEXT = ["Energy", "metabolism", "Translation", "Signaling", "And", "Cellular", "Processes",
              "Lipid", "metabolism",
              "Metabolism", "of", "cofactors", "and", "vitamins",
              "Carbohydrate", "metabolism",
              "Amino acid", "metabolism",
              "Genetic", "Information", "Processing",
              "Folding,", "sorting and", "degradation",
              "Transcription",
              "Signal", "transduction", "Cell", "motility", "Membrane", "transport",
              "Nucleotide", "metabolism",
              "Biosynthesis", "of other", "secondary", "metabolites",
              "Glycan", "biosynthesis", "and", "metabolism",
              "Metabolism",
              "Metabolism", "of", "terpenoids", "and", "polyketides",
              "Metabolism", "of other", "amino", "acids",
              "Xenobiotics", "biodegradation", "and", "metabolism",
              "Drug", "resistance",
              "Replication", "and repair",
              "Unclassified", "Unclassified", "Unclassified",
              "Poorly", "characterized"]
LABEL_X = [885, 879, 286.5, 1277, 1285, 1277, 1274,
           683, 682,
           377, 377, 377, 377, 378,
           1337, 1337,
           294, 295,
           434, 434, 432,
           700, 700, 700,
           158,
           88, 87, 1466, 1467, 50, 50,
           218, 218,
           119, 120, 120, 120,
           136, 136, 136, 136,
           1490,
           1478, 1478, 1478, 1478, 1478,
           1406, 1406, 1406, 1406,
           1544, 1544, 1544, 1544,
           1552, 1552,
           28, 28,
           849, 744, 684,
           910, 908]
LABEL_Y = [557.5, 670.5, 945.5, 1162, 1241, 1321, 1399,
           53, 86,
           139.5, 171.5, 203.5, 234.5, 265.5,
           210.5, 241.5,
           465.5, 495.5,
           1325, 1353, 1381,
           1283, 1303, 1323,
           1500.5,
           59, 78, 32, 51, 234.5, 247.5,
           75.5, 83.5,
           335, 346, 356, 366,
           234, 239, 243, 248,
           551,
           646, 662, 678, 694, 710,
           785.5, 791.5, 797.5, 803.5,
           466.5, 470, 474, 478,
           732, 734,
           1417.5, 1423.5,
           1437, 1470, 1546,
           1531.5, 1540.5]
LABEL_SIZE = [182, 182, 121, 126, 126, 126, 126,
              54, 54,
              50, 50, 50, 50, 50,
              50.5, 50.5,
              48, 48,
              46, 46, 46,
              33, 33, 33,
              47,
              31, 31, 30, 30, 21, 21,
              13, 13,
              16, 16, 16, 16,
              7, 7, 7, 7,
              29,
              26, 26, 26, 26, 26,
              10, 10, 10, 10,
              5.5, 5.5, 5.5, 5.5,
              5, 5,
              9, 9,
              20, 18, 18,
              15, 15]

PLAIN_TEXT = ["Cellular", "community-", "prokaryotes"]
PLAIN_X = [1520, 1520, 1520]
PLAIN_Y = [129.5, 139.5, 149.5]
PLAIN_SIZE = 18

FONT = "DejaVu Sans"
fig = go.Figure()


def unpack(lines):
    xs, ys = [], []
    for line in lines:
        for x, y in line:
            xs.append(x)
            ys.append(y)
        xs.append(None)
        ys.append(None)
    return xs, ys


for name, col, shape in zip(REGION_NAMES, REGION_COLORS, REGION_SHAPES):
    xs = [p[0] for p in shape] + [shape[0][0]]
    ys = [p[1] for p in shape] + [shape[0][1]]
    fig.add_trace(go.Scatter(x=xs, y=ys, mode="lines", name=name, fill="toself", fillcolor=col,
                             line=dict(width=0, color=col), hoverinfo="skip"))

for lines, width, color in [(THIN, 1.0, "rgba(40,50,55,0.75)"), (MID, 1.9, "#000000"),
                            (BOLD, 3.2, "#000000"), (HEAVY, 6.5, "#000000")]:
    xs, ys = unpack(lines)
    fig.add_trace(go.Scatter(x=xs, y=ys, mode="lines", hoverinfo="skip",
                             line=dict(width=width, color=color, simplify=False)))

# frame
FRAME_X = [3.75, 1564.25, 1564.25, 3.75, 3.75]
FRAME_Y = [3.75, 3.75, 1564.25, 1564.25, 3.75]
fig.add_trace(go.Scatter(x=FRAME_X, y=FRAME_Y, mode="lines", hoverinfo="skip",
                         line=dict(width=12, color="#000000")))

# labels
SHADOW = "1px 1px 0 #222"
for s in sorted(set(LABEL_SIZE), reverse=True):
    idx = [i for i, v in enumerate(LABEL_SIZE) if v == s]
    fig.add_trace(go.Scatter(x=[LABEL_X[i] for i in idx], y=[LABEL_Y[i] for i in idx],
                             text=[LABEL_TEXT[i] for i in idx], mode="text",
                             textposition="middle center", hoverinfo="skip",
                             textfont=dict(family=FONT, size=s, color="#ffffff", weight="bold",
                                           shadow=SHADOW)))
fig.add_trace(go.Scatter(x=PLAIN_X, y=PLAIN_Y, text=PLAIN_TEXT, mode="text",
                         textposition="middle center", hoverinfo="skip",
                         textfont=dict(family=FONT, size=PLAIN_SIZE, color="#ffffff", shadow=SHADOW)))

fig.update_layout(width=2512, height=2512, margin=dict(l=0, r=0, t=0, b=0), showlegend=False,
                  paper_bgcolor="#000000", plot_bgcolor="#e0f3f8",
                  xaxis=dict(range=[0, 1568], visible=False, fixedrange=True),
                  yaxis=dict(range=[1568, 0], visible=False, fixedrange=True))
fig.write_html("out.html", post_script="document.body.style.margin='0';", config={"displayModeBar": False})
